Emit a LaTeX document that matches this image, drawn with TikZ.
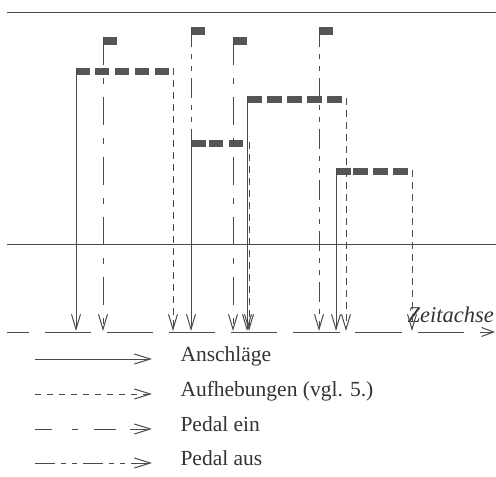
\documentclass[tikz,border=0pt]{standalone}
\usepackage{fontspec}
\setmainfont{Liberation Serif}
\usetikzlibrary{arrows.meta}
\definecolor{ink}{HTML}{4A4A4A}
\definecolor{blk}{HTML}{555555}
\tikzset{
  x=1pt,y=-1pt,
  every path/.style={line width=1pt, color=ink},
  vtip/.style={-{Straight Barb[length=15pt,width=9pt,line width=1pt]}},
  anschlag/.style={vtip},
  aufheb/.style={vtip, dash pattern=on 7pt off 5pt},
  pedein/.style={vtip, dash pattern=on 28pt off 13pt on 6pt off 13pt},
  pedaus/.style={vtip, dash pattern=on 20pt off 7pt on 5pt off 7pt on 5pt off 7pt},
  lbl/.style={font=\fontsize{21.5pt}{24pt}\selectfont, text=black!80, inner sep=0pt},
}
\begin{document}
\begin{tikzpicture}
\useasboundingbox (0,0) rectangle (496,477);
% horizontal lines
\coordinate (tl) at (7,12); \coordinate (tr) at (496,12);
\coordinate (ml) at (7,244); \coordinate (mr) at (496,244);
\draw (tl) -- (tr);
\draw (ml) -- (mr);
% time axis segments
\foreach \a/\b in {7/29,45/91,107/153,169/215,231/277,293/340,355/402,418/464}
  \draw (\a,332) -- (\b,332);
\coordinate (axs) at (480,332); \coordinate (axe) at (495,332);
\draw[-{Straight Barb[length=12pt,width=9pt,line width=1pt]}] (axs) -- (axe);
\node[lbl, anchor=base west, font=\fontsize{22.5pt}{24pt}\selectfont\itshape] (zeit) at (407,322) {Zeitachse};
% blocks (notes)
\foreach \x in {76,95,115,135,155} \fill[blk] (\x,68) rectangle ++(13.5,7);
\foreach \x in {192,209,229} \fill[blk] (\x,140) rectangle ++(13.5,7);
\foreach \x in {247,267,287,307,327} \fill[blk] (\x,96) rectangle ++(14.5,7);
\foreach \x in {336,353,373,393} \fill[blk] (\x,168) rectangle ++(14.5,7);
% pedal flags
\foreach \x/\y in {103/37,191/27,233/37,319/27} \fill[blk] (\x,\y) rectangle ++(14,7.5);
% vertical lines: coordinates
\foreach \n/\x/\y in {a1/76/68, a2/191/140, a3/247/96, a4/336/168,
                      u1/173/68, u2/249/142, u3/346/98, u4/412/170,
                      e1/103/37, e2/233/37, p1/191/27, p2/319/27}{
  \coordinate (\n t) at (\x,\y);
  \coordinate (\n b) at (\x,331);
}
\coordinate (p1e) at (191,140);
% Anschlaege
\foreach \n in {a1,a2,a3,a4} \draw[anschlag] (\n t) -- (\n b);
% Aufhebungen
\foreach \n in {u1,u2,u3,u4} \draw[aufheb] (\n t) -- (\n b);
% Pedal ein
\foreach \n in {e1,e2} \draw[pedein] (\n t) -- (\n b);
% Pedal aus
\draw[pedaus, -] (p1t) -- (p1e);
\draw[pedaus] (p2t) -- (p2b);
% legend
\foreach \n/\y in {l1/359, l2/394, l3/429, l4/463}{
  \coordinate (\n s) at (35,\y);
  \coordinate (\n e) at (152,\y);
}
\draw[-{Straight Barb[length=16pt,width=10pt,line width=1pt]}] (l1s) -- (l1e);
\draw[-{Straight Barb[length=16pt,width=10pt,line width=1pt]}, dash pattern=on 6pt off 6pt] (l2s) -- (l2e);
\draw[-{Straight Barb[length=16pt,width=10pt,line width=1pt]}, dash pattern=on 17pt off 20pt on 6pt off 16pt on 22pt off 14pt] (l3s) -- (l3e);
\draw[-{Straight Barb[length=16pt,width=10pt,line width=1pt]}, dash pattern=on 20pt off 6pt on 5pt off 6pt on 5pt off 6pt] (l4s) -- (l4e);
\node[lbl, anchor=mid west] (t1) at (180,359) {Anschläge};
\node[lbl, anchor=mid west] (t2) at (180,394) {Aufhebungen (vgl. 5.)};
\node[lbl, anchor=mid west] (t3) at (180,429) {Pedal ein};
\node[lbl, anchor=mid west] (t4) at (180,463) {Pedal aus};
\end{tikzpicture}
\end{document}
